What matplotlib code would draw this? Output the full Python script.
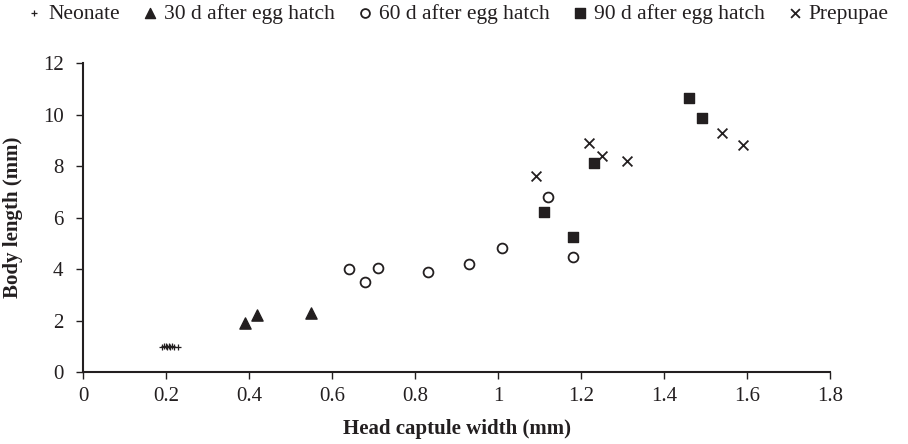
import matplotlib
matplotlib.use("Agg")
import matplotlib.pyplot as plt

plt.rcParams['font.family'] = ['Liberation Serif', 'DejaVu Serif']

neo_x = [0.19, 0.195, 0.2, 0.203, 0.207, 0.21, 0.215, 0.22, 0.23]
neo_y = [0.97, 1.0, 1.02, 0.98, 1.0, 0.96, 1.0, 0.99, 0.97]
d30_x = [0.39, 0.42, 0.55]
d30_y = [1.9, 2.2, 2.3]
d60_x = [0.64, 0.68, 0.71, 0.83, 0.93, 1.01, 1.12, 1.18]
d60_y = [4.0, 3.5, 4.05, 3.9, 4.2, 4.8, 6.8, 4.45]
d90_x = [1.11, 1.18, 1.23, 1.46, 1.49]
d90_y = [6.2, 5.25, 8.1, 10.65, 9.85]
pre_x = [1.09, 1.22, 1.25, 1.31, 1.54, 1.59]
pre_y = [7.6, 8.9, 8.4, 8.2, 9.3, 8.8]

labels = ['Neonate', '30 d after egg hatch', '60 d after egg hatch',
          '90 d after egg hatch', 'Prepupae']

fig = plt.figure(figsize=(9.08, 4.44), dpi=100)
ax = fig.add_axes([0.0914, 0.162, 0.823, 0.696])
c = '#231f20'
ax.scatter(neo_x, neo_y, marker='+', s=22, color=c, linewidths=0.9, label=labels[0])
ax.scatter(d30_x, d30_y, marker='^', s=65, color=c, label=labels[1])
ax.scatter(d60_x, d60_y, marker='o', s=50, facecolors='white', edgecolors=c, linewidths=1.3, label=labels[2])
ax.scatter(d90_x, d90_y, marker='s', s=60, color=c, label=labels[3])
ax.scatter(pre_x, pre_y, marker='x', s=50, color=c, linewidths=1.3, label=labels[4])

ax.set_xlim(0, 1.8)
ax.set_ylim(0, 12)
ax.set_xticks([0, 0.2, 0.4, 0.6, 0.8, 1, 1.2, 1.4, 1.6, 1.8])
ax.set_xticklabels(['0', '0.2', '0.4', '0.6', '0.8', '1', '1.2', '1.4', '1.6', '1.8'])
ax.set_yticks(range(0, 13, 2))
for s in ['top', 'right']:
    ax.spines[s].set_visible(False)
for s in ['left', 'bottom']:
    ax.spines[s].set_linewidth(1.5)
    ax.spines[s].set_color(c)
ax.tick_params(axis='both', direction='out', length=5, width=1, colors=c, labelsize=15, labelcolor=c)
ax.tick_params(axis='x', pad=6)
ax.tick_params(axis='y', pad=9)
ax.set_xlabel('Head captule width (mm)', fontsize=15, fontweight='bold', color=c, labelpad=9)
ax.set_ylabel('Body length (mm)', fontsize=15, fontweight='bold', color=c, labelpad=14)

fig.legend(loc='upper center', bbox_to_anchor=(0.503, 1.035), ncol=5, frameon=False,
           fontsize=15.5, handlelength=0.9, handletextpad=0.2, columnspacing=0.95,
           markerscale=0.9, labelcolor=c)

fig.savefig('out.png', dpi=100)
